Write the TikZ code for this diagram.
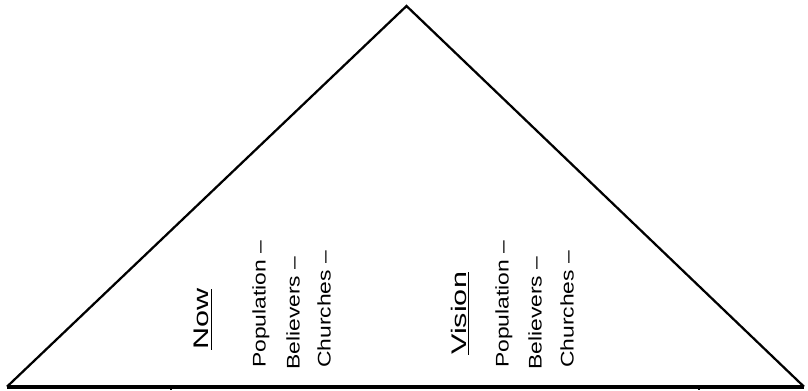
\documentclass[tikz,border=0pt]{standalone}
\usepackage{fontspec}
\setmainfont{Liberation Sans}
\newfontfamily\handfont[FakeStretch=1.25]{Liberation Sans}
\newfontfamily\headfont[FakeStretch=1.45]{Liberation Sans}
\usepackage{tikz}
\usetikzlibrary{positioning}

\tikzset{
    side/.style={line width=1.6pt, line join=miter},
    base/.style={line width=2.6pt},
    coltext/.style={rotate=90, anchor=west, inner sep=0pt, font=\handfont\fontsize{13}{15}\selectfont},
    headtext/.style={rotate=90, anchor=west, inner sep=0pt, font=\headfont\fontsize{15}{17}\selectfont}
}

\begin{document}
\begin{tikzpicture}[x=0.025cm, y=0.025cm]
        \useasboundingbox (0,0) rectangle (808,390);
        % triangle corners
        \coordinate (apex) at (406.5,384);
        \coordinate (left) at (7,3.3);
        \coordinate (right) at (804,3.3);
        \coordinate (tickA) at (171,3.3);
        \coordinate (tickB) at (699,3.3);
        \coordinate (tickAend) at (171,0);
        \coordinate (tickBend) at (699,0);
        \draw[side] (left) -- (apex) -- (right);
        \draw[base] (left) -- (right);
        \draw[line width=0.8pt] (tickA) -- (tickAend);
        \draw[line width=0.8pt] (tickB) -- (tickBend);
        % now
        \node[headtext] (now) at (203,40) {\underline{Now}};
        \node[coltext] (nowpop) at (261,22) {Population –};
        \node[coltext] (nowbel) at (293,20) {Believers –};
        \node[coltext] (nowchu) at (324,22) {Churches –};
        % vision
        \node[headtext] (vision) at (460,35) {\underline{Vision}};
        \node[coltext] (vispop) at (504,22) {Population –};
        \node[coltext] (visbel) at (535,20) {Believers –};
        \node[coltext] (vischu) at (567,22) {Churches –};
\end{tikzpicture}
\end{document}
